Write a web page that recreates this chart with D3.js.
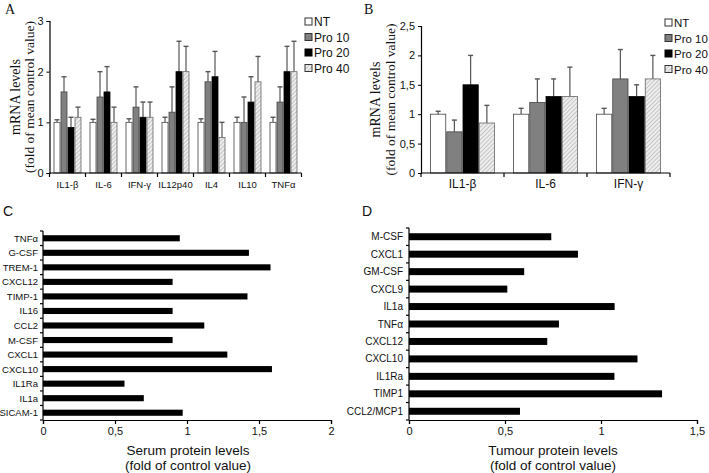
<!DOCTYPE html>
<html><head><meta charset="utf-8">
<script src="https://cdn.jsdelivr.net/npm/d3@7"></script>
<style>
body{margin:0;background:#fff;}
svg{display:block;}
text{font-family:"Liberation Sans",Arial,sans-serif;fill:#111;}
.serif{font-family:"Liberation Serif","Times New Roman",serif;}
</style></head><body>
<svg id="c" width="709" height="473"></svg>
<script>
// ---------- DATA ----------
const seriesNames = ["NT","Pro 10","Pro 20","Pro 40"];
// Panel A
const catsA = ["IL1-β","IL-6","IFN-γ","IL12p40","IL4","IL10","TNFα"];
const meanA_NT   = [1.0,1.0,1.0,1.0,1.0,1.0,1.0];
const meanA_P10  = [1.6,1.5,1.3,1.2,1.8,1.0,1.4];
const meanA_P20  = [0.9,1.6,1.1,2.0,1.9,1.4,2.0];
const meanA_P40  = [1.1,1.0,1.1,2.0,0.7,1.8,2.0];
const errA_NT    = [0.05,0.06,0.07,0.1,0.07,0.1,0.1];
const errA_P10   = [0.3,0.5,0.4,0.5,0.2,0.5,0.3];
const errA_P20   = [0.2,0.5,0.3,0.6,0.5,0.5,0.5];
const errA_P40   = [0.2,0.3,0.3,0.5,0.3,0.5,0.6];
const ticksA = [0,1,2,3];
// Panel B
const catsB = ["IL1-β","IL-6","IFN-γ"];
const meanB_NT  = [1.0,1.0,1.0];
const meanB_P10 = [0.7,1.2,1.6];
const meanB_P20 = [1.5,1.3,1.3];
const meanB_P40 = [0.85,1.3,1.6];
const errB_NT   = [0.05,0.1,0.1];
const errB_P10  = [0.2,0.4,0.5];
const errB_P20  = [0.5,0.3,0.2];
const errB_P40  = [0.3,0.5,0.4];
const ticksB = [0,0.5,1,1.5,2,2.5];
// Panel C
const catsC = ["TNFα","G-CSF","TREM-1","CXCL12","TIMP-1","IL16","CCL2","M-CSF","CXCL1","CXCL10","IL1Ra","IL1a","SICAM-1"];
const valsC = [0.95,1.43,1.58,0.90,1.42,0.90,1.12,0.90,1.28,1.59,0.566,0.70,0.97];
const ticksC = [0,0.5,1,1.5,2];
// Panel D
const catsD = ["M-CSF","CXCL1","GM-CSF","CXCL9","IL1a","TNFα","CXCL12","CXCL10","IL1Ra","TIMP1","CCL2/MCP1"];
const valsD = [0.741,0.88,0.60,0.512,1.071,0.781,0.72,1.19,1.07,1.318,0.578];
const ticksD = [0,0.5,1,1.5];

const fmt = d => String(d).replace(".", ",");

const svg = d3.select("#c");
const defs = svg.append("defs");
const pat = defs.append("pattern").attr("id","hatch").attr("patternUnits","userSpaceOnUse")
  .attr("width",3).attr("height",3).attr("patternTransform","rotate(45)");
pat.append("rect").attr("width",3).attr("height",3).attr("fill","#eeeeee");
pat.append("line").attr("x1",0).attr("y1",0).attr("x2",0).attr("y2",3).attr("stroke","#a8a8a8").attr("stroke-width",1.2);

const fills = ["#ffffff","#808080","#000000","url(#hatch)"];
const strokes = ["#444","#444","#000","#666"];

function groupedPanel(cfg){
  const g = svg.append("g");
  const x = d3.scaleBand().domain(cfg.cats).range(cfg.xr).paddingInner(0).paddingOuter(0);
  const xi = d3.scaleBand().domain(seriesNames).range([cfg.pad, x.bandwidth()-cfg.pad]);
  const y = d3.scaleLinear().domain(cfg.ydom).range(cfg.yr);
  const means = cfg.means, errs = cfg.errs;
  seriesNames.forEach((s,si)=>{
    const data = cfg.cats.map((c,i)=>({c, v:means[si][i], e:errs[si][i]}));
    g.selectAll(null).data(data).enter().append("line")
      .attr("x1",d=>x(d.c)+xi(s)+xi.bandwidth()/2).attr("x2",d=>x(d.c)+xi(s)+xi.bandwidth()/2)
      .attr("y1",d=>y(d.v)).attr("y2",d=>y(d.v+d.e)).attr("stroke","#555").attr("stroke-width",1.2);
    g.selectAll(null).data(data).enter().append("line")
      .attr("x1",d=>x(d.c)+xi(s)+xi.bandwidth()/2-2.5).attr("x2",d=>x(d.c)+xi(s)+xi.bandwidth()/2+2.5)
      .attr("y1",d=>y(d.v+d.e)).attr("y2",d=>y(d.v+d.e)).attr("stroke","#555").attr("stroke-width",1.4);
    g.selectAll(null).data(data).enter().append("rect")
      .attr("x",d=>x(d.c)+xi(s)+0.5).attr("width",xi.bandwidth()-1)
      .attr("y",d=>y(d.v)).attr("height",d=>y(0)-y(d.v))
      .attr("fill",fills[si]).attr("stroke",strokes[si]).attr("stroke-width",0.8);
  });
  const ya = d3.axisLeft(y).tickValues(cfg.ticks).tickFormat(fmt).tickSize(3).tickPadding(3);
  const yg = g.append("g").attr("transform",`translate(${cfg.xr[0]},0)`).call(ya);
  yg.select(".domain").attr("stroke","#000").attr("stroke-width",1.2);
  yg.selectAll("text").attr("font-size",11).attr("fill","#222");
  g.append("line").attr("x1",cfg.xr[0]).attr("x2",cfg.xr[1]).attr("y1",y(0)).attr("y2",y(0)).attr("stroke","#000").attr("stroke-width",1.2);
  const bounds = cfg.cats.map(c=>x(c)).concat([x(cfg.cats[cfg.cats.length-1])+x.bandwidth()]);
  g.selectAll(null).data(bounds).enter().append("line")
    .attr("x1",d=>d).attr("x2",d=>d).attr("y1",y(0)).attr("y2",y(0)+4).attr("stroke","#000").attr("stroke-width",1.2);
  g.selectAll(null).data(cfg.cats).enter().append("text")
    .attr("x",d=>x(d)+x.bandwidth()/2).attr("y",y(0)+15).attr("text-anchor","middle")
    .attr("font-size",cfg.catFont).text(d=>d);
  const cy = (cfg.yr[0]+cfg.yr[1])/2;
  g.append("text").attr("class","serif").attr("transform",`translate(${cfg.tx1},${cy}) rotate(-90)`)
    .attr("text-anchor","middle").attr("font-size",14).text("mRNA levels");
  g.append("text").attr("class","serif").attr("transform",`translate(${cfg.tx2},${cy}) rotate(-90)`)
    .attr("text-anchor","middle").attr("font-size",13.5).text("(fold of mean control value)");
  g.append("text").attr("class","serif").attr("x",cfg.lab[0]).attr("y",cfg.lab[1]).attr("font-size",14).text(cfg.label);
  const lg = g.append("g").attr("transform",`translate(${cfg.leg[0]},${cfg.leg[1]})`);
  seriesNames.forEach((s,i)=>{
    lg.append("rect").attr("x",0).attr("y",i*15.5-4).attr("width",7).attr("height",7)
      .attr("fill",fills[i]).attr("stroke",i===2?"#000":"#333").attr("stroke-width",1);
    lg.append("text").attr("x",9).attr("y",i*15.5+4).attr("font-size",cfg.legFont).text(s);
  });
}

groupedPanel({cats:catsA, xr:[49.5,301.5], pad:4, ydom:[0,3], yr:[173,21], ticks:ticksA,
  means:[meanA_NT,meanA_P10,meanA_P20,meanA_P40], errs:[errA_NT,errA_P10,errA_P20,errA_P40],
  catFont:9.5, tx1:20, tx2:34, lab:[5,14], label:"A", leg:[305,22], legFont:12});
groupedPanel({cats:catsB, xr:[421,670], pad:9, ydom:[0,2.5], yr:[173,26], ticks:ticksB,
  means:[meanB_NT,meanB_P10,meanB_P20,meanB_P40], errs:[errB_NT,errB_P10,errB_P20,errB_P40],
  catFont:12, tx1:380, tx2:395, lab:[364,14], label:"B", leg:[665,23], legFont:11.5});

function hPanel(cfg){
  const g = svg.append("g");
  const y = d3.scaleBand().domain(cfg.cats).range(cfg.yr).paddingInner(cfg.pi).paddingOuter(cfg.pi/2);
  const ybound = d3.scaleBand().domain(cfg.cats).range(cfg.yr);
  const x = d3.scaleLinear().domain(cfg.xdom).range(cfg.xr);
  g.selectAll(null).data(cfg.cats.map((c,i)=>({c,v:cfg.vals[i]}))).enter().append("rect")
    .attr("x",x(0)).attr("y",d=>y(d.c)).attr("height",y.bandwidth()).attr("width",d=>x(d.v)-x(0)).attr("fill","#000");
  g.append("line").attr("x1",x(0)).attr("x2",x(0)).attr("y1",cfg.yr[0]).attr("y2",cfg.yr[1]).attr("stroke","#000").attr("stroke-width",1.2);
  const bounds = cfg.cats.map(c=>ybound(c)).concat([cfg.yr[1]]);
  g.selectAll(null).data(bounds).enter().append("line")
    .attr("x1",x(0)-3).attr("x2",x(0)).attr("y1",d=>d).attr("y2",d=>d).attr("stroke","#000").attr("stroke-width",1.2);
  g.selectAll(null).data(cfg.cats).enter().append("text")
    .attr("x",x(0)-cfg.labOff).attr("y",d=>ybound(d)+ybound.bandwidth()/2+3.5).attr("text-anchor","end")
    .attr("font-size",cfg.labFont).text(d=>d);
  const xa = d3.axisBottom(x).tickValues(cfg.ticks).tickFormat(fmt).tickSize(4).tickPadding(3);
  const xg = g.append("g").attr("transform",`translate(0,${cfg.yr[1]})`).call(xa);
  xg.select(".domain").attr("stroke","#000").attr("stroke-width",1.2);
  xg.selectAll(".tick line").attr("stroke-width",1.2);
  xg.selectAll("text").attr("font-size",11).attr("fill","#222");
  g.append("text").attr("x",cfg.tcx).attr("y",455).attr("text-anchor","middle").attr("font-size",13.5).text(cfg.title);
  g.append("text").attr("x",cfg.tcx).attr("y",470).attr("text-anchor","middle").attr("font-size",13.5).text("(fold of  control value)");
  g.append("text").attr("x",cfg.lab[0]).attr("y",cfg.lab[1]).attr("font-size",14).text(cfg.label);
}

hPanel({cats:catsC, vals:valsC, xdom:[0,2], xr:[43,331], yr:[231,420], pi:0.58, ticks:ticksC,
  title:"Serum protein levels", tcx:188, lab:[3,216], label:"C", labFont:9.5, labOff:5});
hPanel({cats:catsD, vals:valsD, xdom:[0,1.5], xr:[409,697], yr:[228,420], pi:0.6, ticks:ticksD,
  title:"Tumour protein levels", tcx:553, lab:[362,216], label:"D", labFont:10, labOff:6});
</script>
</body></html>
